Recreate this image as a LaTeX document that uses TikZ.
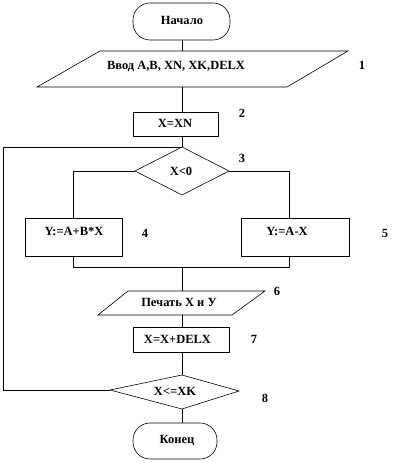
\documentclass[tikz,border=0pt]{standalone}
\usepackage{fontspec}
\setmainfont{Liberation Serif}
\begin{document}
\begin{tikzpicture}[x=1pt,y=-1pt, line width=0.6pt,
  txt/.style={font=\bfseries\fontsize{12.5}{14}\selectfont, inner sep=0pt},
  num/.style={font=\bfseries\fontsize{12.5}{14}\selectfont, inner sep=0pt},
  box/.style={draw, rectangle, inner sep=0pt},
  term/.style={draw, rectangle, rounded corners=17pt, inner sep=0pt},
  conn/.style={draw}]
\useasboundingbox (0,0) rectangle (412,462);

% start
\node[term, minimum width=97pt, minimum height=37pt] (start) at (181.5,21.5) {};
\node[txt] (tstart) at (182,20) {Начало};

% input parallelogram (1)
\coordinate (p1a) at (100,51);
\coordinate (p1b) at (348,51);
\coordinate (p1c) at (287,87);
\coordinate (p1d) at (37,87);
\draw (p1a) -- (p1b) -- (p1c) -- (p1d) -- cycle;
\coordinate (in1) at (182,51);
\coordinate (out1) at (182,87);
\node[txt] (t1) at (176,66) {Ввод A,B, XN, XK,DELX};
\node[num] (n1) at (362,65) {1};

% box 2
\node[box, minimum width=85pt, minimum height=24pt] (b2) at (175.5,124) {};
\node[txt] (t2) at (175,123) {X=XN};
\node[num] (n2) at (242,113) {2};

% diamond 3
\coordinate (d3t) at (182,147);
\coordinate (d3l) at (135,171);
\coordinate (d3r) at (229,171);
\coordinate (d3b) at (182,195);
\draw (d3t) -- (d3r) -- (d3b) -- (d3l) -- cycle;
\node[txt] (t3) at (181,171) {X<0};
\node[num] (n3) at (242,158) {3};

% box 4
\node[box, minimum width=97pt, minimum height=38pt] (b4) at (73.5,237) {};
\node[txt] (t4) at (74,231) {Y:=A+B*X};
\node[num] (n4) at (145,233) {4};

% box 5
\node[box, minimum width=108pt, minimum height=38pt] (b5) at (295,237) {};
\node[txt] (t5) at (287,231) {Y:=A-X};
\node[num] (n5) at (385,233) {5};
\coordinate (r5t) at (289,218);
\coordinate (r5b) at (289,256);

% join
\coordinate (jl) at (73.5,267);
\coordinate (jr) at (289,267);
\coordinate (jm) at (182,267);

% output parallelogram (6)
\coordinate (p6a) at (128,291);
\coordinate (p6b) at (265,291);
\coordinate (p6c) at (232,315);
\coordinate (p6d) at (98,315);
\draw (p6a) -- (p6b) -- (p6c) -- (p6d) -- cycle;
\coordinate (in6) at (182,291);
\coordinate (out6) at (182,315);
\node[txt] (t6) at (179,302) {Печать X и У};
\node[num] (n6) at (277,291) {6};

% box 7
\node[box, minimum width=96pt, minimum height=25pt] (b7) at (181,339.5) {};
\node[txt] (t7) at (177.5,339) {X=X+DELX};
\node[num] (n7) at (254,339) {7};

% diamond 8
\coordinate (d8t) at (182,375);
\coordinate (d8l) at (110,390);
\coordinate (d8r) at (239,391);
\coordinate (d8b) at (182,409);
\draw (d8t) -- (d8r) -- (d8b) -- (d8l) -- cycle;
\node[txt] (t8) at (175,391) {X<=XK};
\node[num] (n8) at (265,398) {8};

% end
\node[term, minimum width=84pt, minimum height=36pt] (end) at (175,441) {};
\node[txt] (tend) at (177,440) {Конец};

% loop coordinates
\coordinate (la) at (3,390);
\coordinate (lb) at (3,147);

% connectors
\draw (in1 |- start.south) -- (in1);
\draw (out1) -- (out1 |- b2.north);
\draw (d3t |- b2.south) -- (d3t);
\draw (d3l) -| (b4.north);
\draw (d3r) -| (r5t);
\draw (b4.south) -- (jl) -- (jr) -- (r5b);
\draw (jm) -- (in6);
\draw (out6) -- (out6 |- b7.north);
\draw (d8t |- b7.south) -- (d8t);
\draw (d8b) -- (d8b |- end.north);
\draw (d8l) -- (la) -- (lb) -- (d3t);
\end{tikzpicture}
\end{document}
